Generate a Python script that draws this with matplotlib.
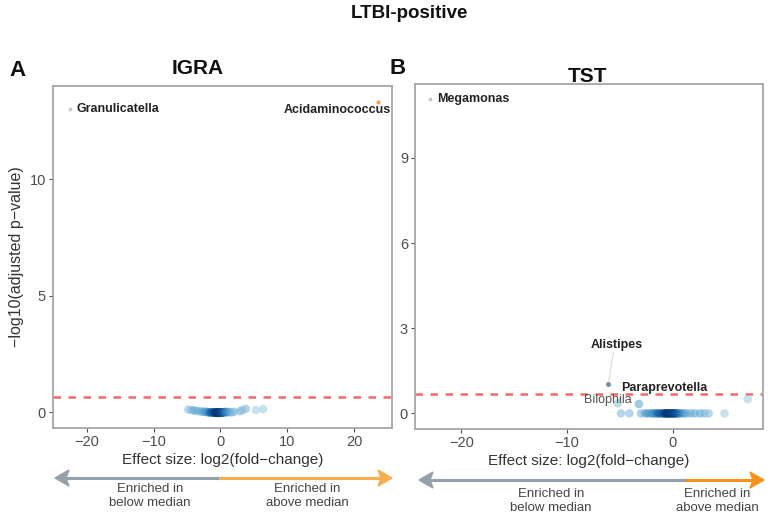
import numpy as np
import matplotlib
matplotlib.use("Agg")
import matplotlib.pyplot as plt
from matplotlib.patches import Polygon
from matplotlib.lines import Line2D

plt.rcParams['font.family'] = ['Liberation Sans', 'DejaVu Sans']

# ---------------- data ----------------
igra_x = [-4.8, -4.3, -3.9, -3.5, -3.0, -2.6, -2.3, -2.0, -1.8, -1.6, -1.4, -1.2,
          -1.0, -0.9, -0.8, -0.7, -0.6, -0.5, -0.4, -0.3, -0.2, -0.1, 0.0, 0.1,
          0.2, 0.3, 0.5, 0.7, 0.9, 1.2, 1.6, 2.0, 2.9, 3.3, 3.8, 5.3, 6.4]
igra_y = [0.12, 0.10, 0.08, 0.06, 0.04, 0.03, 0.02, 0.02, 0.0, 0.0, 0.0, 0.0,
          0.0, -0.02, 0.0, -0.02, 0.0, -0.02, 0.0, -0.02, 0.0, -0.02, 0.0, 0.0,
          -0.02, 0.0, 0.0, 0.02, 0.0, 0.02, 0.0, 0.02, 0.05, 0.10, 0.15, 0.10, 0.14]
igra_labels = ["Granulicatella", "Acidaminococcus"]
igra_lab_x = [-22.6, 23.6]
igra_lab_y = [13.0, 13.3]

tst_x = [-4.9, -4.1, -3.0, -2.6, -2.3, -2.0, -1.8, -1.6, -1.4, -1.2, -1.0, -0.8,
         -0.7, -0.6, -0.5, -0.4, -0.3, -0.2, -0.1, 0.0, 0.1, 0.2, 0.3, 0.5,
         0.7, 1.0, 1.3, 1.7, 2.1, 2.6, 3.0, 3.4, 4.9, -5.2, -3.2, 7.1]
tst_y = [0.0] * 33 + [0.36, 0.33, 0.50]
tst_labels = ["Megamonas", "Alistipes", "Paraprevotella", "Bilophila"]
tst_lab_x = [-22.96, -6.1, -5.2, -3.2]
tst_lab_y = [11.06, 1.02, 0.36, 0.33]

igra_threshold = 0.65
tst_threshold = 0.70

W, H = 768, 516
fig = plt.figure(figsize=(W / 100, H / 100), dpi=100)


def fx(x):
    return x / W


def fy(y):
    return 1 - y / H


def density_colors(xs, ys):
    xs = np.asarray(xs)
    cnt = np.array([np.sum(np.abs(xs - a) < 1.0) for a in xs], dtype=float)
    norm = (cnt - cnt.min()) / max(cnt.max() - cnt.min(), 1)
    cmap = plt.get_cmap('Blues')
    return [cmap(0.35 + 0.65 * v) for v in norm]


def style_axes(ax):
    for s in ax.spines.values():
        s.set_color('#a6a6a6')
        s.set_linewidth(1.3)
    ax.tick_params(axis='both', colors='#4d4d4d', labelsize=10.5, length=3,
                   width=0.8, direction='out', pad=2)
    ax.set_xlabel('Effect size: log2(fold\u2212change)', fontsize=11,
                  color='#333333', labelpad=3)


# ---------------- Panel A ----------------
axA = fig.add_axes([fx(53), fy(428), fx(392) - fx(53), fy(86) - fy(428)])
axA.set_xlim(-25.1, 25.7)
axA.set_ylim(-0.67, 14.0)
axA.set_xticks([-20, -10, 0, 10, 20])
axA.set_yticks([0, 5, 10])
axA.set_xticklabels(['\u221220', '\u221210', '0', '10', '20'])
axA.axhline(igra_threshold, color='#f26b6b', lw=1.8, ls=(0, (3, 3)), zorder=1)
axA.scatter(igra_x, igra_y, s=38, c=density_colors(igra_x, igra_y), alpha=0.6,
            edgecolors='none', zorder=2)
axA.scatter([igra_lab_x[0]], [igra_lab_y[0]], s=3, color='#c8c8c8', zorder=3)
axA.scatter([igra_lab_x[1]], [igra_lab_y[1]], s=4, color='#f5a640', zorder=3)
axA.text(-21.6, 13.0, igra_labels[0], fontsize=9, fontweight='bold',
         color='#222222', va='center', ha='left')
axA.text(25.5, 12.95, igra_labels[1], fontsize=9, fontweight='bold',
         color='#222222', va='center', ha='right')
axA.set_ylabel('\u2212log10(adjusted p\u2212value)', fontsize=11.5, color='#333333',
               labelpad=4)
style_axes(axA)

# ---------------- Panel B ----------------
axB = fig.add_axes([fx(415), fy(429), fx(763) - fx(415), fy(84) - fy(429)])
axB.set_xlim(-24.4, 8.55)
axB.set_ylim(-0.55, 11.6)
axB.set_xticks([-20, -10, 0])
axB.set_xticklabels(['\u221220', '\u221210', '0'])
axB.set_yticks([0, 3, 6, 9])
axB.axhline(tst_threshold, color='#f26b6b', lw=1.8, ls=(0, (3, 3)), zorder=1)
axB.scatter(tst_x, tst_y, s=38, c=density_colors(tst_x, tst_y), alpha=0.6,
            edgecolors='none', zorder=2)
axB.scatter([tst_lab_x[0]], [tst_lab_y[0]], s=3, color='#c8c8c8', zorder=3)
axB.scatter([tst_lab_x[1]], [tst_lab_y[1]], s=7, color='#7f93a8', zorder=3)
axB.plot([tst_lab_x[1], -5.6], [tst_lab_y[1], 2.15], color='#d9d9d9', lw=0.8, zorder=1)
axB.text(-22.3, 11.06, tst_labels[0], fontsize=9, fontweight='bold',
         color='#222222', va='center', ha='left')
axB.text(-5.3, 2.4, tst_labels[1], fontsize=9, fontweight='bold',
         color='#222222', va='center', ha='center')
axB.text(-4.9, 0.9, tst_labels[2], fontsize=9, fontweight='bold',
         color='#222222', va='center', ha='left')
axB.text(-8.4, 0.46, tst_labels[3], fontsize=9, color='#555555',
         va='center', ha='left')
style_axes(axB)

# ---------------- titles ----------------
fig.text(fx(409), fy(13), 'LTBI-positive', fontsize=13.5, fontweight='bold',
         ha='center', va='center', color='#111111')
fig.text(fx(17), fy(70), 'A', fontsize=16, fontweight='bold', ha='center',
         va='center', color='#111111')
fig.text(fx(398), fy(68), 'B', fontsize=16, fontweight='bold', ha='center',
         va='center', color='#111111')
fig.text(fx(198), fy(68), 'IGRA', fontsize=15, fontweight='bold', ha='center',
         va='center', color='#111111')
fig.text(fx(588), fy(76), 'TST', fontsize=15, fontweight='bold', ha='center',
         va='center', color='#111111')


# ---------------- arrows ----------------
def draw_arrow(x0, xs, x1, y, grey, orange):
    head_l, head_h = 14, 8
    fig.add_artist(Line2D([fx(x0 + head_l - 2), fx(xs)], [fy(y), fy(y)],
                          color=grey, lw=2.2, transform=fig.transFigure))
    fig.add_artist(Line2D([fx(xs), fx(x1 - head_l + 2)], [fy(y), fy(y)],
                          color=orange, lw=2.2, transform=fig.transFigure))
    fig.add_artist(Polygon([(fx(x0), fy(y)), (fx(x0 + head_l), fy(y - head_h)),
                            (fx(x0 + head_l - 3), fy(y)),
                            (fx(x0 + head_l), fy(y + head_h))],
                           closed=True, color=grey, transform=fig.transFigure))
    fig.add_artist(Polygon([(fx(x1), fy(y)), (fx(x1 - head_l), fy(y - head_h)),
                            (fx(x1 - head_l + 3), fy(y)),
                            (fx(x1 - head_l), fy(y + head_h))],
                           closed=True, color=orange, transform=fig.transFigure))


draw_arrow(55, 220, 392, 478, '#95a0ad', '#f7ae4f')
draw_arrow(419, 686, 764, 480, '#95a0ad', '#f5921e')

for cx, cy, txt in [(150, 496, 'Enriched in\nbelow median'),
                    (307, 496, 'Enriched in\nabove median'),
                    (551, 501, 'Enriched in\nbelow median'),
                    (717, 501, 'Enriched in\nabove median')]:
    fig.text(fx(cx), fy(cy), txt, fontsize=9.5, ha='center', va='center',
             color='#444444', linespacing=1.3)

fig.savefig('out.png', dpi=100)
